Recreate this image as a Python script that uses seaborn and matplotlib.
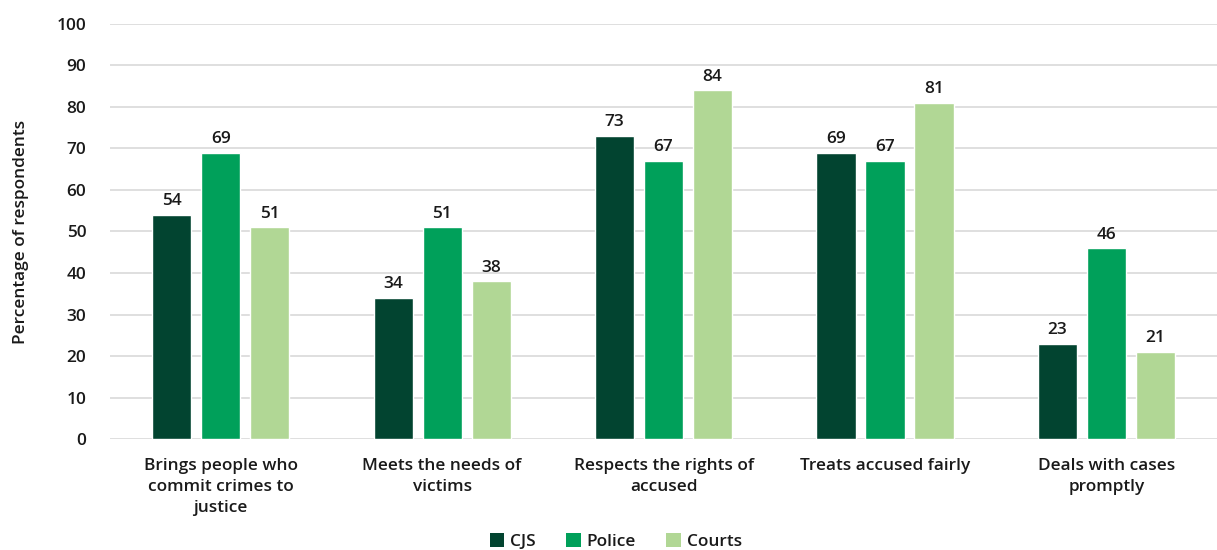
import matplotlib
matplotlib.use("Agg")
import matplotlib.pyplot as plt
import seaborn as sns
import pandas as pd
from matplotlib.patches import Patch

categories = [
    "Brings people who\ncommit crimes to\njustice",
    "Meets the needs of\nvictims",
    "Respects the rights of\naccused",
    "Treats accused fairly",
    "Deals with cases\npromptly",
]
series = ["CJS", "Police", "Courts"]
cjs = [54, 34, 73, 69, 23]
police = [69, 51, 67, 67, 46]
courts = [51, 38, 84, 81, 21]
colors = ["#024430", "#00A05A", "#B1D795"]
y_ticks = [0, 10, 20, 30, 40, 50, 60, 70, 80, 90, 100]

df = pd.DataFrame({
    "category": categories * 3,
    "series": [s for s in series for _ in categories],
    "value": cjs + police + courts,
})

sns.set_theme(style="white")
plt.rcParams["font.family"] = ["Open Sans", "DejaVu Sans"]
text_color = "#1a1a1a"
weight = "semibold"
fs = 12.4

fig = plt.figure(figsize=(12.17, 5.5), dpi=100)
ax = fig.add_axes([0.0904, 0.2018, 0.9096, 0.7546])

sns.barplot(data=df, x="category", y="value", hue="series",
            order=categories, hue_order=series, palette=colors,
            width=0.664, gap=0.2, saturation=1, ax=ax, legend=False,
            errorbar=None, zorder=3)

for container in ax.containers:
    ax.bar_label(container, fmt="%.0f", padding=4, fontsize=fs,
                 fontweight=weight, color=text_color)

ax.set_ylim(0, 100)
ax.set_xlim(-0.5, len(categories) - 0.5)
ax.set_yticks(y_ticks)
ax.set_yticklabels([str(t) for t in y_ticks], fontsize=fs,
                   fontweight=weight, color=text_color)
ax.set_xticks(range(len(categories)))
ax.set_xticklabels(categories, fontsize=fs, fontweight=weight,
                   color=text_color, linespacing=1.4)
ax.tick_params(axis="both", length=0)
ax.tick_params(axis="x", pad=14)
ax.tick_params(axis="y", pad=17)
ax.yaxis.grid(True, color="#d9d9d9", linewidth=1.2, zorder=0)
ax.set_axisbelow(True)
for sp in ax.spines.values():
    sp.set_visible(False)
ax.set_xlabel("")
ax.set_ylabel("Percentage of respondents", fontsize=fs,
              fontweight=weight, color=text_color, labelpad=20)

handles = [Patch(facecolor=c, edgecolor="none") for c in colors]
fig.legend(handles, series, loc="center", bbox_to_anchor=(0.506, 0.016),
           ncol=3, frameon=False, handlelength=0.85, handleheight=0.85,
           handletextpad=0.35, columnspacing=1.75,
           prop={"size": fs, "weight": weight})
for t in fig.legends[0].get_texts():
    t.set_color(text_color)

fig.savefig("out.png", dpi=100)
